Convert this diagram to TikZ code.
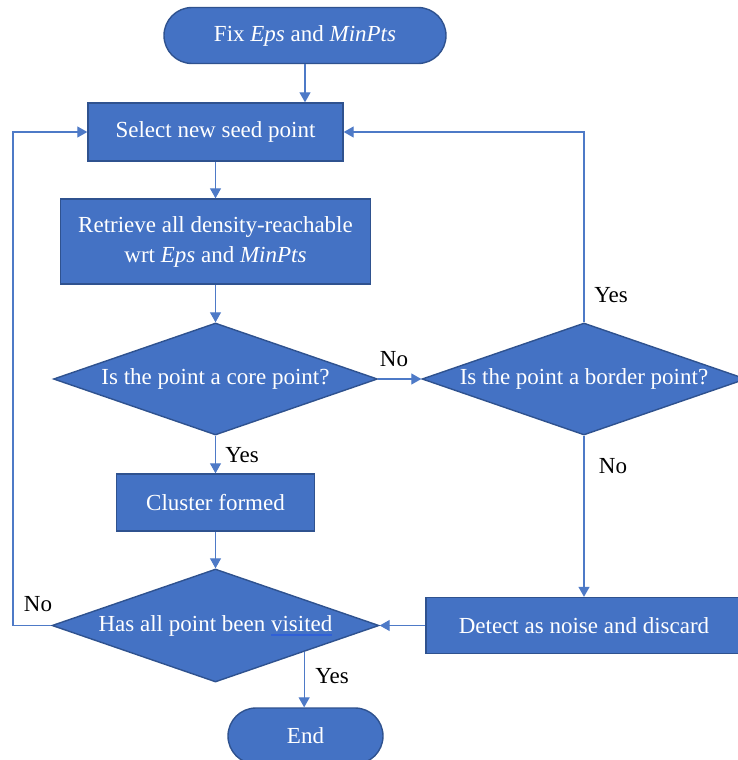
\documentclass[tikz,border=0pt]{standalone}
\usepackage{fontspec}
\setmainfont{Liberation Serif}
\usetikzlibrary{shapes.geometric,arrows.meta,calc}
\definecolor{fillblue}{HTML}{4472C4}
\definecolor{edgeblue}{HTML}{2F528F}
\definecolor{lineblue}{HTML}{4E7AC7}
\definecolor{ulblue}{HTML}{3060D8}
\newcommand\spellul[1]{\setbox0\hbox{#1}\rlap{\color{ulblue}\rule[-4.5pt]{\wd0}{1.1pt}}\box0}
\newcommand\zerow[1]{\makebox[0pt]{#1}}
\begin{document}
\begin{tikzpicture}[x=1pt,y=-1pt,
  every node/.style={font=\fontsize{23}{30}\selectfont},
  shapebase/.style={draw=edgeblue,line width=1.4pt,fill=fillblue,text=white,inner sep=0pt,align=center},
  procbox/.style={shapebase,rectangle},
  termbox/.style={shapebase,rectangle,rounded corners=28pt},
  decbox/.style={shapebase,diamond,aspect=2.9,minimum width=324pt,minimum height=112pt},
  lbl/.style={text=black,inner sep=0pt},
  arr/.style={draw=lineblue,line width=1.3pt,-{Triangle[width=11pt,length=10pt]}},
  ln/.style={draw=lineblue,line width=1.3pt}]
\useasboundingbox (0,0) rectangle (738,760);
\clip (0,0) rectangle (738,760);

\node[termbox,minimum width=282pt,minimum height=56pt] (start) at (305,35.5) {Fix \textit{Eps} and \textit{MinPts}};
\node[procbox,minimum width=255pt,minimum height=58pt] (select) at (215.5,132) {Select new seed point};
\node[procbox,minimum width=310pt,minimum height=85pt] (retrieve) at (215.5,241.5) {Retrieve all density-reachable\\wrt \textit{Eps} and \textit{MinPts}};
\node[decbox] (core) at (215.5,379) {\zerow{Is the point a core point?}};
\node[decbox] (border) at (584,379) {\zerow{Is the point a border point?}};
\node[procbox,minimum width=198pt,minimum height=57pt] (cluster) at (215.5,502.5) {Cluster formed};
\node[decbox,minimum width=327pt,minimum height=113pt] (visited) at (215.5,625.5) {\zerow{Has all point been \spellul{visited}}};
\node[procbox,minimum width=316pt,minimum height=56pt] (detect) at (584,625.5) {Detect as noise and discard};
\node[termbox,minimum width=155pt,minimum height=56pt] (end) at (305.5,736) {End};

\node[lbl] (yes1) at (242,455) {Yes};
\node[lbl] (no1) at (394,359) {No};
\node[lbl] (yes2) at (611,295) {Yes};
\node[lbl] (no2) at (613,466) {No};
\node[lbl] (no3) at (38,604) {No};
\node[lbl] (yes3) at (332,676) {Yes};

\coordinate (lp) at (13,625.5);
\coordinate (vout) at ($(visited.east)!0.46!(visited.south)$);

\draw[arr] (start.south) -- (start.south |- select.north);
\draw[arr] (select.south) -- (retrieve.north);
\draw[arr] (retrieve.south) -- (core.north);
\draw[arr] (core.south) -- (cluster.north);
\draw[arr] (core.east) -- (border.west);
\draw[arr] (border.north) |- (select.east);
\draw[arr] (border.south) -- (detect.north);
\draw[arr] (cluster.south) -- (visited.north);
\draw[arr] (detect.west) -- (visited.east);
\draw[arr] (visited.west) -- (lp) |- (select.west);
\draw[arr] (vout) -- (vout |- end.north);
\end{tikzpicture}
\end{document}
